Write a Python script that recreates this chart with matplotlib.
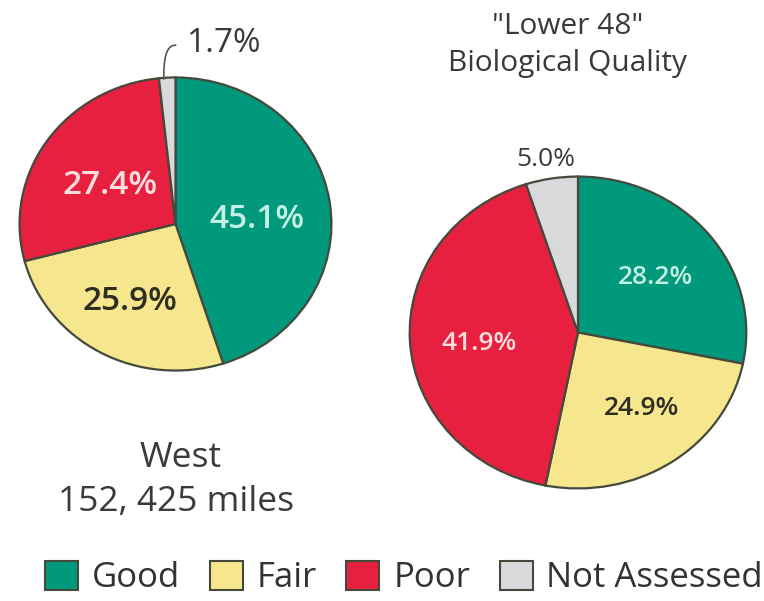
import numpy as np
import matplotlib.pyplot as plt
from matplotlib.patches import Patch

plt.rcParams['font.family'] = ['Open Sans', 'DejaVu Sans']

categories = ["Good", "Fair", "Poor", "Not Assessed"]
colors = ["#00997c", "#f6e68e", "#e8203f", "#d8d9db"]
edge = "#45493c"

west_values = [45.1, 25.9, 27.4, 1.7]
lower48_values = [28.2, 24.9, 41.9, 5.0]

west_labels = ["45.1%", "25.9%", "27.4%", "1.7%"]
lower48_labels = ["28.2%", "24.9%", "41.9%", "5.0%"]

W, H = 764, 601
fig = plt.figure(figsize=(W / 100, H / 100), dpi=100)


def px_axes(x0, y0, x1, y1):
    # pixel box (top-left origin) -> figure axes
    return fig.add_axes([x0 / W, (H - y1) / H, (x1 - x0) / W, (y1 - y0) / H])


def draw_pie(ax, values):
    ax.pie(values, colors=colors, startangle=90, counterclock=False,
           radius=1, wedgeprops=dict(edgecolor=edge, linewidth=1.6))
    ax.set_aspect('auto')
    ax.set_xlim(-1.01, 1.01)
    ax.set_ylim(-1.01, 1.01)
    ax.axis('off')


# West pie
ax1 = px_axes(18, 76, 333, 372)
draw_pie(ax1, west_values)
ax1.text(0.52, 0.03, west_labels[0], color="#c4efe3", fontsize=24,
         fontweight='semibold', ha='center', va='center')
ax1.text(-0.29, -0.53, west_labels[1], color="#2e2e22", fontsize=24,
         fontweight='semibold', ha='center', va='center')
ax1.text(-0.42, 0.26, west_labels[2], color="#fcdede", fontsize=24,
         fontweight='semibold', ha='center', va='center')
ax1.text(0.31, 1.23, west_labels[3], color="#3a3a3a", fontsize=24,
         ha='center', va='center', clip_on=False)
t = np.linspace(0, 1, 30)
lx = -0.075 + 0.075 * t ** 2.5
ly = 0.99 + 0.23 * np.sin(t * np.pi / 2)
ax1.plot(lx, ly, color="#555555", lw=1.2, clip_on=False)

# Lower 48 pie
ax2 = px_axes(408, 175, 748, 490)
draw_pie(ax2, lower48_values)
ax2.text(0.46, 0.35, lower48_labels[0], color="#c4efe3", fontsize=19,
         fontweight='semibold', ha='center', va='center')
ax2.text(0.38, -0.49, lower48_labels[1], color="#2e2e22", fontsize=19,
         fontweight='semibold', ha='center', va='center')
ax2.text(-0.59, -0.07, lower48_labels[2], color="#fcdede", fontsize=19,
         fontweight='semibold', ha='center', va='center')
ax2.text(-0.19, 1.11, lower48_labels[3], color="#3a3a3a", fontsize=19,
         ha='center', va='center', clip_on=False)

# titles
fig.text(568 / W, 1 - 27 / H, '"Lower 48"', fontsize=21.5, color="#3a3a3a",
         ha='center', va='center')
fig.text(568 / W, 1 - 63 / H, 'Biological Quality', fontsize=21.5,
         color="#3a3a3a", ha='center', va='center')
fig.text(181 / W, 1 - 458 / H, 'West', fontsize=25.5, color="#3a3a3a",
         ha='center', va='center')
fig.text(176 / W, 1 - 502 / H, '152, 425 miles', fontsize=25.5,
         color="#3a3a3a", ha='center', va='center')

handles = [Patch(facecolor=c, edgecolor=edge, linewidth=1.5) for c in colors]
fig.legend(handles, categories, loc='center', bbox_to_anchor=(404 / W, 1 - 578 / H),
           ncol=4, frameon=False, fontsize=25, handlelength=0.95,
           handleheight=0.95, handletextpad=0.4, columnspacing=0.85,
           labelcolor="#333333", borderpad=0)

fig.savefig("out.png", dpi=100)
